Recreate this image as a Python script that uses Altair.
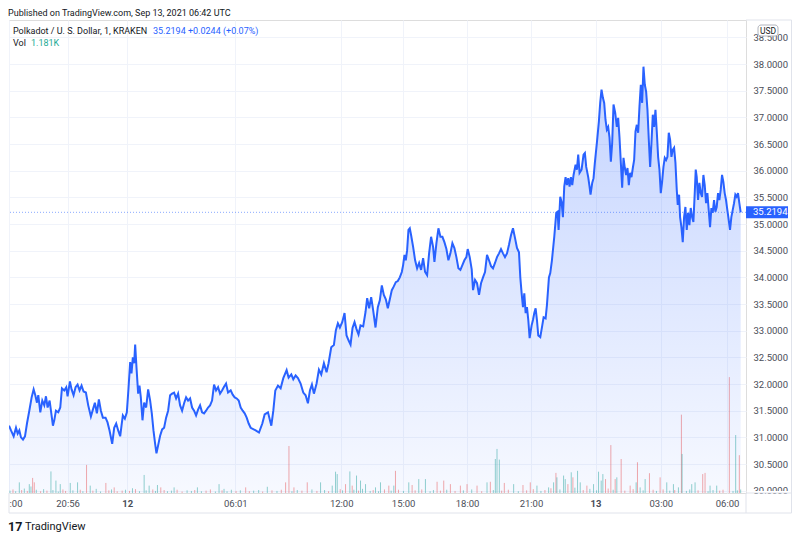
import altair as alt
import pandas as pd

# ---------------- text ----------------
TITLE = "Published on TradingView.com, Sep 13, 2021 06:42 UTC"
SYMBOL = "Polkadot / U. S. Dollar, 1, KRAKEN"
QUOTE = "35.2194 +0.0244 (+0.07%)"
VOL_LABEL = "Vol"
VOL_VALUE = "1.181K"
CURRENCY = "USD"
LOGO_MARK = "17"
LOGO_TEXT = "TradingView"
LAST_PRICE = 35.2194

# ---------------- time axis (bar index -> label) ----------------
tick_bars = [0, 176, 355, 680, 998, 1184, 1376, 1568, 1762, 1958, 2157]
tick_text = [":00", "20:56", "12", "06:01", "12:00", "15:00", "18:00", "21:00", "13", "03:00", "06:00"]
day_bars = [355, 1762]

price_ticks = [30.0, 30.5, 31.0, 31.5, 32.0, 32.5, 33.0, 33.5, 34.0, 34.5,
               35.0, 35.5, 36.0, 36.5, 37.0, 37.5, 38.0, 38.5]

# ---------------- price series (bar index, close) ----------------
seg1_bar = [0, 6, 14, 21, 26, 31, 36, 42, 48, 54, 61, 68, 74, 79, 84, 88, 94, 100, 106, 111,
            116, 122, 126, 132, 136, 141, 148, 154, 159, 166, 172, 176, 183, 188, 194, 200, 206, 212, 218, 224,
            231, 238, 246, 252, 258, 264, 270, 276, 282, 290, 296, 302, 310, 316, 322, 328, 334, 338, 342, 348,
            354, 359, 364, 368, 372, 376, 379, 383, 388, 392, 396, 401, 406, 412, 418, 424, 429, 434, 439, 443,
            448, 454, 460, 466, 472, 478, 484, 490, 496, 502, 508, 514, 520, 526, 532, 538, 544, 550, 556, 562,
            568, 574, 580, 586, 592, 598, 604, 610, 616, 622, 628, 634, 640, 646, 652, 658, 666, 672, 678, 684,
            690, 696, 702, 708, 714, 720]
seg1_px = [31.22, 31.13, 31.02, 31.18, 31.07, 31.13, 31.00, 30.96, 31.02, 31.26, 31.50, 31.75, 31.90, 31.79, 31.65, 31.79, 31.47, 31.69, 31.60, 31.77,
           31.56, 31.69, 31.50, 31.22, 31.32, 31.50, 31.47, 31.56, 31.92, 31.88, 31.94, 31.77, 32.05, 31.90, 31.79, 31.94, 31.99, 31.88, 31.97, 31.86,
           31.84, 31.60, 31.39, 31.52, 31.65, 31.45, 31.71, 31.50, 31.37, 31.37, 31.28, 31.13, 30.88, 31.18, 31.26, 31.13, 31.02, 31.22, 31.41, 31.35,
           31.47, 31.92, 32.41, 32.20, 32.50, 32.39, 32.74, 32.31, 31.82, 31.97, 31.75, 31.32, 31.65, 31.56, 31.90, 31.69, 31.45, 31.13, 30.88, 30.70,
           30.85, 31.03, 31.15, 31.18, 31.37, 31.50, 31.79, 31.82, 31.84, 31.73, 31.82, 31.60, 31.50, 31.64, 31.75, 31.69, 31.73, 31.56, 31.50, 31.41,
           31.52, 31.60, 31.47, 31.45, 31.50, 31.56, 31.60, 31.69, 31.99, 31.88, 31.94, 31.82, 31.88, 31.95, 32.01, 31.84, 31.88, 31.80, 31.75, 31.73,
           31.69, 31.56, 31.50, 31.45, 31.37, 31.26]

seg2_bar = [726, 741, 751, 761, 768, 778, 788, 794, 800, 808, 816, 824, 834, 840, 848, 854, 861, 868, 876, 884,
            891, 898, 904, 910, 916, 924, 931, 938, 946, 954, 960, 968, 976, 982, 988, 994, 1001, 1008, 1014, 1020,
            1026, 1032, 1038, 1044, 1050, 1056, 1064, 1071, 1076, 1082, 1088, 1094, 1101, 1108, 1114, 1120, 1126, 1132, 1138, 1144,
            1150, 1156, 1162, 1168, 1174, 1180, 1184, 1188, 1192, 1196, 1200, 1204, 1208, 1214, 1220, 1226, 1232, 1238, 1244, 1250,
            1256, 1262, 1268, 1274, 1278, 1284, 1290, 1296, 1302, 1308, 1314, 1320, 1326, 1332, 1338, 1344, 1350, 1356, 1362, 1368,
            1374, 1378, 1384, 1390, 1394, 1400, 1406, 1412, 1418, 1424, 1430, 1436, 1442, 1448, 1454, 1460, 1466, 1472, 1478, 1484,
            1490, 1496, 1502, 1508, 1514, 1520, 1526, 1532, 1536, 1540, 1544, 1548, 1552, 1556, 1560, 1564, 1570, 1574, 1578, 1582,
            1586, 1590, 1596, 1602, 1606, 1612, 1616, 1622, 1626]
seg2_px = [31.18, 31.13, 31.09, 31.26, 31.43, 31.47, 31.22, 31.50, 31.88, 31.97, 31.92, 32.11, 32.26, 32.12, 32.18, 32.09, 32.16, 32.11, 32.01, 31.84,
           31.79, 31.64, 31.88, 31.99, 31.82, 32.01, 32.27, 32.18, 32.39, 32.22, 32.39, 32.69, 32.73, 33.01, 33.14, 33.06, 33.16, 33.33, 32.91, 32.82,
           32.74, 33.05, 33.16, 33.03, 32.93, 33.10, 33.08, 33.35, 33.61, 33.42, 33.63, 33.38, 33.06, 33.44, 33.57, 33.85, 33.67, 33.59, 33.42, 33.59,
           33.76, 33.83, 33.91, 33.93, 34.00, 34.10, 34.23, 34.42, 34.32, 34.51, 34.89, 34.92, 34.79, 34.57, 34.32, 34.17, 34.27, 34.14, 34.36, 34.10,
           34.04, 34.45, 34.76, 34.57, 34.29, 34.64, 34.92, 34.76, 34.76, 34.66, 34.53, 34.32, 34.45, 34.64, 34.55, 34.38, 34.17, 34.14, 34.23, 34.32,
           34.38, 34.53, 34.38, 34.15, 33.76, 33.95, 33.89, 33.67, 33.89, 34.00, 34.10, 34.42, 34.32, 34.21, 34.17, 34.27, 34.38, 34.45, 34.53, 34.45,
           34.38, 34.45, 34.61, 34.79, 34.92, 34.74, 34.55, 34.47, 34.00, 33.70, 33.44, 33.70, 33.33, 33.44, 33.20, 32.86, 33.10, 33.20, 33.33, 33.42,
           33.20, 32.91, 32.88, 33.10, 33.25, 33.23, 33.48, 34.00, 34.08]

seg3_bar = [1631, 1638, 1644, 1648, 1651, 1656, 1660, 1664, 1668, 1672, 1676, 1680, 1684, 1688, 1692, 1696, 1702, 1706, 1710, 1714,
            1720, 1726, 1730, 1734, 1740, 1744, 1747, 1752, 1756, 1760, 1766, 1772, 1776, 1780, 1784, 1788, 1792, 1796, 1800, 1804,
            1808, 1812, 1816, 1821, 1826, 1830, 1834, 1838, 1842, 1846, 1850, 1854, 1858, 1862, 1866, 1870, 1874, 1878, 1882, 1886,
            1890, 1894, 1898, 1902, 1906, 1910, 1914, 1918, 1922, 1926, 1930, 1934, 1938, 1942, 1946, 1950, 1954, 1958, 1962, 1966,
            1970, 1974, 1978, 1982, 1986, 1990, 1994, 1998, 2002, 2006, 2009, 2013, 2016, 2020, 2024, 2028, 2032, 2036, 2040, 2044,
            2048, 2052, 2056, 2060, 2063, 2066, 2070, 2074, 2078, 2082, 2086, 2090, 2094, 2098, 2102, 2106, 2110, 2114, 2118, 2122,
            2126, 2130, 2134, 2138, 2142, 2146, 2150, 2154, 2158, 2162, 2166, 2170, 2174, 2178, 2182, 2186, 2190, 2194, 2198]
seg3_px = [34.32, 34.76, 35.21, 35.23, 34.89, 35.51, 35.41, 35.13, 35.70, 35.88, 35.73, 35.86, 35.70, 35.88, 35.73, 35.92, 36.11, 36.02, 36.30, 35.96,
           36.02, 36.30, 36.33, 36.07, 35.88, 35.70, 35.55, 35.77, 35.86, 36.15, 36.52, 36.92, 37.27, 37.52, 37.37, 37.27, 36.95, 36.77, 36.82, 36.62,
           36.17, 36.52, 37.24, 37.09, 36.82, 36.99, 36.62, 36.15, 35.68, 36.24, 36.05, 35.92, 36.05, 35.73, 35.96, 35.88, 36.05, 36.20, 36.73, 36.86,
           36.71, 37.20, 37.61, 37.27, 37.95, 37.61, 37.48, 37.14, 36.58, 36.07, 36.52, 37.05, 36.82, 37.14, 36.73, 36.26, 36.02, 35.58, 35.79, 36.07,
           36.24, 36.20, 36.26, 36.71, 36.58, 36.26, 36.39, 36.43, 36.15, 35.64, 35.36, 35.55, 35.13, 34.94, 34.66, 35.13, 35.32, 34.89, 35.21, 34.98,
           35.30, 35.13, 35.04, 35.58, 36.02, 35.88, 35.45, 35.77, 35.58, 35.51, 35.92, 35.73, 35.39, 35.58, 35.26, 34.94, 35.30, 35.21, 35.45, 35.23,
           35.32, 35.58, 35.45, 35.64, 35.92, 35.79, 35.58, 35.45, 35.26, 35.08, 34.89, 35.13, 35.26, 35.39, 35.55, 35.51, 35.58, 35.39, 35.2194]

# ---------------- volume (bar index, thousands of DOT, u = up bar / d = down bar) ----------------
spikeA_bar = [31, 61, 71, 76, 126, 141, 154, 184, 206, 233, 244, 291, 316, 371, 406, 421, 446, 456, 496, 566,
              631, 646, 711, 776, 831, 841, 856, 896, 936, 971, 981, 986, 1011, 1024, 1031, 1044, 1056, 1071, 1101, 1116,
              1141]
spikeA_k = [3.6, 3.0, 5.1, 3.6, 7.3, 4.2, 3.0, 3.4, 3.6, 9.5, 2.5, 3.4, 1.9, 1.6, 6.1, 2.5, 2.7, 1.9, 1.9, 1.9,
            3.0, 1.4, 1.9, 2.1, 3.6, 15.9, 1.9, 3.6, 3.6, 2.5, 7.2, 6.4, 3.0, 7.3, 2.5, 5.9, 4.2, 3.0, 1.9, 3.6,
            2.5]
spikeA_dir = "uudduuuuudu" "dduuuuduuuu" "dudddduuuud" "uduuuuud"

spikeB_bar = [1156, 1161, 1201, 1211, 1231, 1251, 1286, 1306, 1326, 1356, 1376, 1406, 1436, 1446, 1461, 1466, 1473, 1488, 1516, 1544,
              1566, 1586, 1621, 1636, 1643, 1646, 1666, 1671, 1679, 1689, 1694, 1708, 1716, 1736, 1756, 1771, 1779, 1784, 1792, 1808,
              1821, 1826, 1839, 1866, 1884, 1888, 1896, 1911, 1924, 1956, 1976, 1996, 2011, 2020, 2022, 2051, 2061, 2084, 2091, 2106,
              2126, 2164, 2183, 2194, 2198]
spikeB_k = [2.5, 7.5, 3.6, 2.7, 4.7, 4.7, 3.8, 4.2, 3.0, 2.5, 3.0, 2.5, 3.6, 3.8, 11.5, 14.9, 11.3, 3.4, 3.0, 2.7,
            3.6, 2.5, 1.9, 3.6, 6.8, 5.3, 5.9, 4.7, 3.0, 7.0, 5.3, 7.5, 3.6, 2.5, 3.0, 7.2, 4.2, 6.4, 4.7, 16.2,
            4.7, 5.3, 11.5, 2.5, 3.6, 10.4, 1.9, 4.7, 6.7, 5.3, 3.6, 3.0, 1.9, 26.5, 13.2, 3.0, 3.6, 6.4, 6.8, 2.5,
            2.5, 39.2, 19.6, 12.8, 1.181]
spikeB_dir = "ududuudddd" "dduduuudud" "duuuduuudu" "duuduuuudd" "dudduduudd" "uuuduuuddu" "ududu"

small_bar = [3, 12, 20, 38, 46, 55, 66, 82, 95, 104, 114, 132, 148, 162, 170, 192, 214, 222, 252, 262,
             275, 300, 308, 325, 340, 350, 362, 380, 392, 412, 432, 440, 466, 476, 488, 505, 520, 535, 548, 558,
             578, 592, 605, 620, 640, 655, 668, 682, 695, 722, 735, 750, 762, 790, 805, 818, 850, 866, 880, 910,
             925, 948, 960, 995, 1002, 1036, 1050, 1062, 1085, 1094, 1110, 1128, 1148, 1170, 1185, 1220, 1240, 1265, 1275, 1296,
             1315, 1340, 1365, 1390, 1420, 1455, 1480, 1500, 1530, 1555, 1575, 1598, 1610, 1628, 1655, 1700, 1725, 1745, 1765, 1800,
             1815, 1850, 1875, 1905, 1935, 1945, 1965, 1985, 2000, 2035, 2045, 2070, 2100, 2115, 2135, 2145, 2175, 2188]
small_k = [0.8, 1.2, 0.6, 1.0, 1.5, 0.7, 2.2, 1.1, 0.6, 1.3, 0.8, 1.0, 0.5, 1.2, 0.7, 0.9, 1.1, 0.6, 0.8, 1.4,
           0.5, 0.9, 1.2, 0.6, 0.8, 1.1, 0.7, 1.3, 0.6, 0.9, 1.2, 0.7, 1.0, 0.6, 0.8, 1.1, 0.5, 0.9, 0.7, 1.0,
           0.6, 0.8, 1.2, 0.5, 0.9, 0.6, 1.1, 0.7, 0.9, 0.6, 0.8, 1.0, 0.5, 0.9, 0.7, 1.1, 0.6, 1.0, 0.8, 1.2,
           0.7, 1.0, 0.6, 1.3, 0.9, 1.1, 0.8, 1.4, 0.7, 1.0, 0.6, 1.2, 0.8, 1.1, 0.7, 0.9, 1.2, 0.6, 1.0, 0.8,
           1.1, 0.7, 0.9, 1.2, 0.6, 1.0, 0.8, 1.1, 0.6, 0.9, 1.3, 0.7, 1.0, 1.6, 1.2, 1.8, 1.0, 1.4, 0.9, 1.5,
           1.1, 0.8, 1.3, 0.9, 1.1, 0.7, 1.2, 0.8, 1.0, 0.7, 1.2, 0.9, 0.6, 1.0, 0.8, 1.1, 0.7, 0.9]
small_dir = ("udududuudu" "duuddududu" "ududdudduu" "duduudduud" "udduduudud" "uudduduudu"
             "dudduuduud" "udududduud" "uduududdud" "dudduuduud" "uddudududu" "uduudduu")

price_df = pd.DataFrame({"bar": seg1_bar + seg2_bar + seg3_bar,
                         "price": seg1_px + seg2_px + seg3_px})
vol_df = pd.DataFrame({"bar": spikeA_bar + spikeB_bar + small_bar,
                       "vol": spikeA_k + spikeB_k + small_k,
                       "dir": list(spikeA_dir) + list(spikeB_dir) + list(small_dir)})
one = pd.DataFrame({"k": [0]})

# ---------------- styling ----------------
FONT = "Roboto"
TXT = "#131722"
AXTXT = "#4a4d57"
GRID = "#f0f3fa"
BORDER = "#e0e3eb"
BLUE = "#2962ff"
W, H = 737, 473
Y_MIN, Y_MAX = 29.957, 38.825
VOL_MAX = 160.0  # volume (K) that would fill the whole pane height

label_expr = " : ".join(f"datum.value == {b} ? '{t}'" for b, t in zip(tick_bars, tick_text)) + " : ''"
bold_test = " || ".join(f"datum.value == {b}" for b in day_bars)

x_scale = alt.Scale(domain=[0, 2214], nice=False, zero=False)
y_scale = alt.Scale(domain=[Y_MIN, Y_MAX], nice=False, zero=False)

x_axis = alt.Axis(values=tick_bars, labelExpr=label_expr, title=None, grid=True, gridColor=GRID,
                  ticks=False, tickSize=0, domain=False, labelFont=FONT, labelFontSize=9.5,
                  labelColor=AXTXT, labelPadding=10, labelBaseline="middle", labelOverlap=False,
                  labelFlush=True,
                  labelFontWeight={"condition": {"test": bold_test, "value": "bold"}, "value": "normal"})
y_axis = alt.Axis(orient="right", values=price_ticks, format=".4f", title=None, grid=True,
                  gridColor=GRID, ticks=False, tickSize=0, domain=False, labelFont=FONT,
                  labelFontSize=9.5, labelColor=AXTXT, labelAlign="left", labelBaseline="middle",
                  labelPadding=7, labelOverlap=False)

X = alt.X("bar:Q", scale=x_scale, axis=x_axis)

gradient = alt.Gradient(
    gradient="linear",
    stops=[alt.GradientStop(color="rgba(41,98,255,0.28)", offset=0),
           alt.GradientStop(color="rgba(41,98,255,0.04)", offset=1)],
    x1=1, x2=1, y1=0, y2=1)

# volume pane shares the price scale: the bar top is the volume expressed in pane units
volume = alt.Chart(vol_df).transform_calculate(
    vtop=f"{Y_MIN} + datum.vol * {(Y_MAX - Y_MIN) / VOL_MAX}"
).mark_rule(strokeWidth=1, opacity=0.5).encode(
    x=X,
    y=alt.Y("vtop:Q", scale=y_scale, axis=y_axis),
    y2=alt.Y2Datum(Y_MIN),
    color=alt.Color("dir:N", scale=alt.Scale(domain=["u", "d"], range=["#26a69a", "#ef5350"]), legend=None))

area = alt.Chart(price_df).mark_area(color=gradient, clip=True).encode(
    x=X, y=alt.Y("price:Q", scale=y_scale, axis=y_axis), y2=alt.Y2Datum(Y_MIN))
line = alt.Chart(price_df).mark_line(color=BLUE, strokeWidth=2, clip=True).encode(
    x=X, y=alt.Y("price:Q", scale=y_scale, axis=y_axis))
last_rule = alt.Chart(one).mark_rule(color=BLUE, strokeDash=[1, 2], strokeWidth=1, opacity=0.55).encode(
    y=alt.YDatum(LAST_PRICE, axis=y_axis))
tag_rect = alt.Chart(one).mark_rect(color=BLUE).encode(
    x=alt.value(W), x2=alt.value(W + 42),
    y=alt.YDatum(LAST_PRICE + 0.112, axis=y_axis), y2=alt.Y2Datum(LAST_PRICE - 0.112))
tag_text = alt.Chart(one).mark_text(align="left", baseline="middle", color="white", font=FONT,
                                    fontSize=9.5).encode(
    x=alt.value(W + 7), y=alt.YDatum(LAST_PRICE, axis=y_axis), text=alt.value(f"{LAST_PRICE:.4f}"))


def text(s, x, y, color=TXT, size=9.0, align="left", weight="normal"):
    return alt.Chart(one).mark_text(align=align, baseline="middle", color=color, font=FONT,
                                    fontSize=size, fontWeight=weight).encode(
        x=alt.value(x), y=alt.value(y), text=alt.value(s))


def rule(x, x2, y, y2):
    return alt.Chart(one).mark_rule(color=BORDER, strokeWidth=1).encode(
        x=alt.value(x), x2=alt.value(x2), y=alt.value(y), y2=alt.value(y2))


cover = alt.Chart(one).mark_rect(color="white").encode(
    x=alt.value(W + 1), x2=alt.value(W + 45), y=alt.value(H - 2), y2=alt.value(H))
usd_box = alt.Chart(one).mark_rect(fill="white", stroke="#b2b5be", strokeWidth=1, cornerRadius=3).encode(
    x=alt.value(W + 12), x2=alt.value(W + 32), y=alt.value(5), y2=alt.value(16))

decor = [
    cover,
    rule(W, W + 45.5, 0, 0),
    rule(W, W + 45.5, H, H),
    rule(0, W + 45.5, H + 20, H + 20),
    rule(0, 0, H, H + 20),
    rule(W, W, H, H + 20),
    rule(W + 45.5, W + 45.5, 0, H + 20),
    usd_box,
    text(CURRENCY, W + 22, 10.5, size=8.5, align="center"),
    text(TITLE, -1, -7),
    text(SYMBOL, 4, 11),
    text(QUOTE, 144, 11, color=BLUE),
    text(VOL_LABEL, 4, 23),
    text(VOL_VALUE, 22, 23, color="#22ab94"),
    text(LOGO_MARK, -1, 506.5, size=12.5, weight="bold"),
    text(LOGO_TEXT, 16, 506.5, size=11),
]

chart = alt.layer(volume, area, line, last_rule, tag_rect, tag_text, *decor).properties(
    width=W, height=H,
    autosize=alt.AutoSizeParams(type="none"),
    padding={"left": 1, "top": 12, "right": 46, "bottom": 40},
).configure_view(stroke=BORDER, strokeWidth=1).configure(background="white")

chart.save("out.html", embed_options={"renderer": "svg", "actions": False})
